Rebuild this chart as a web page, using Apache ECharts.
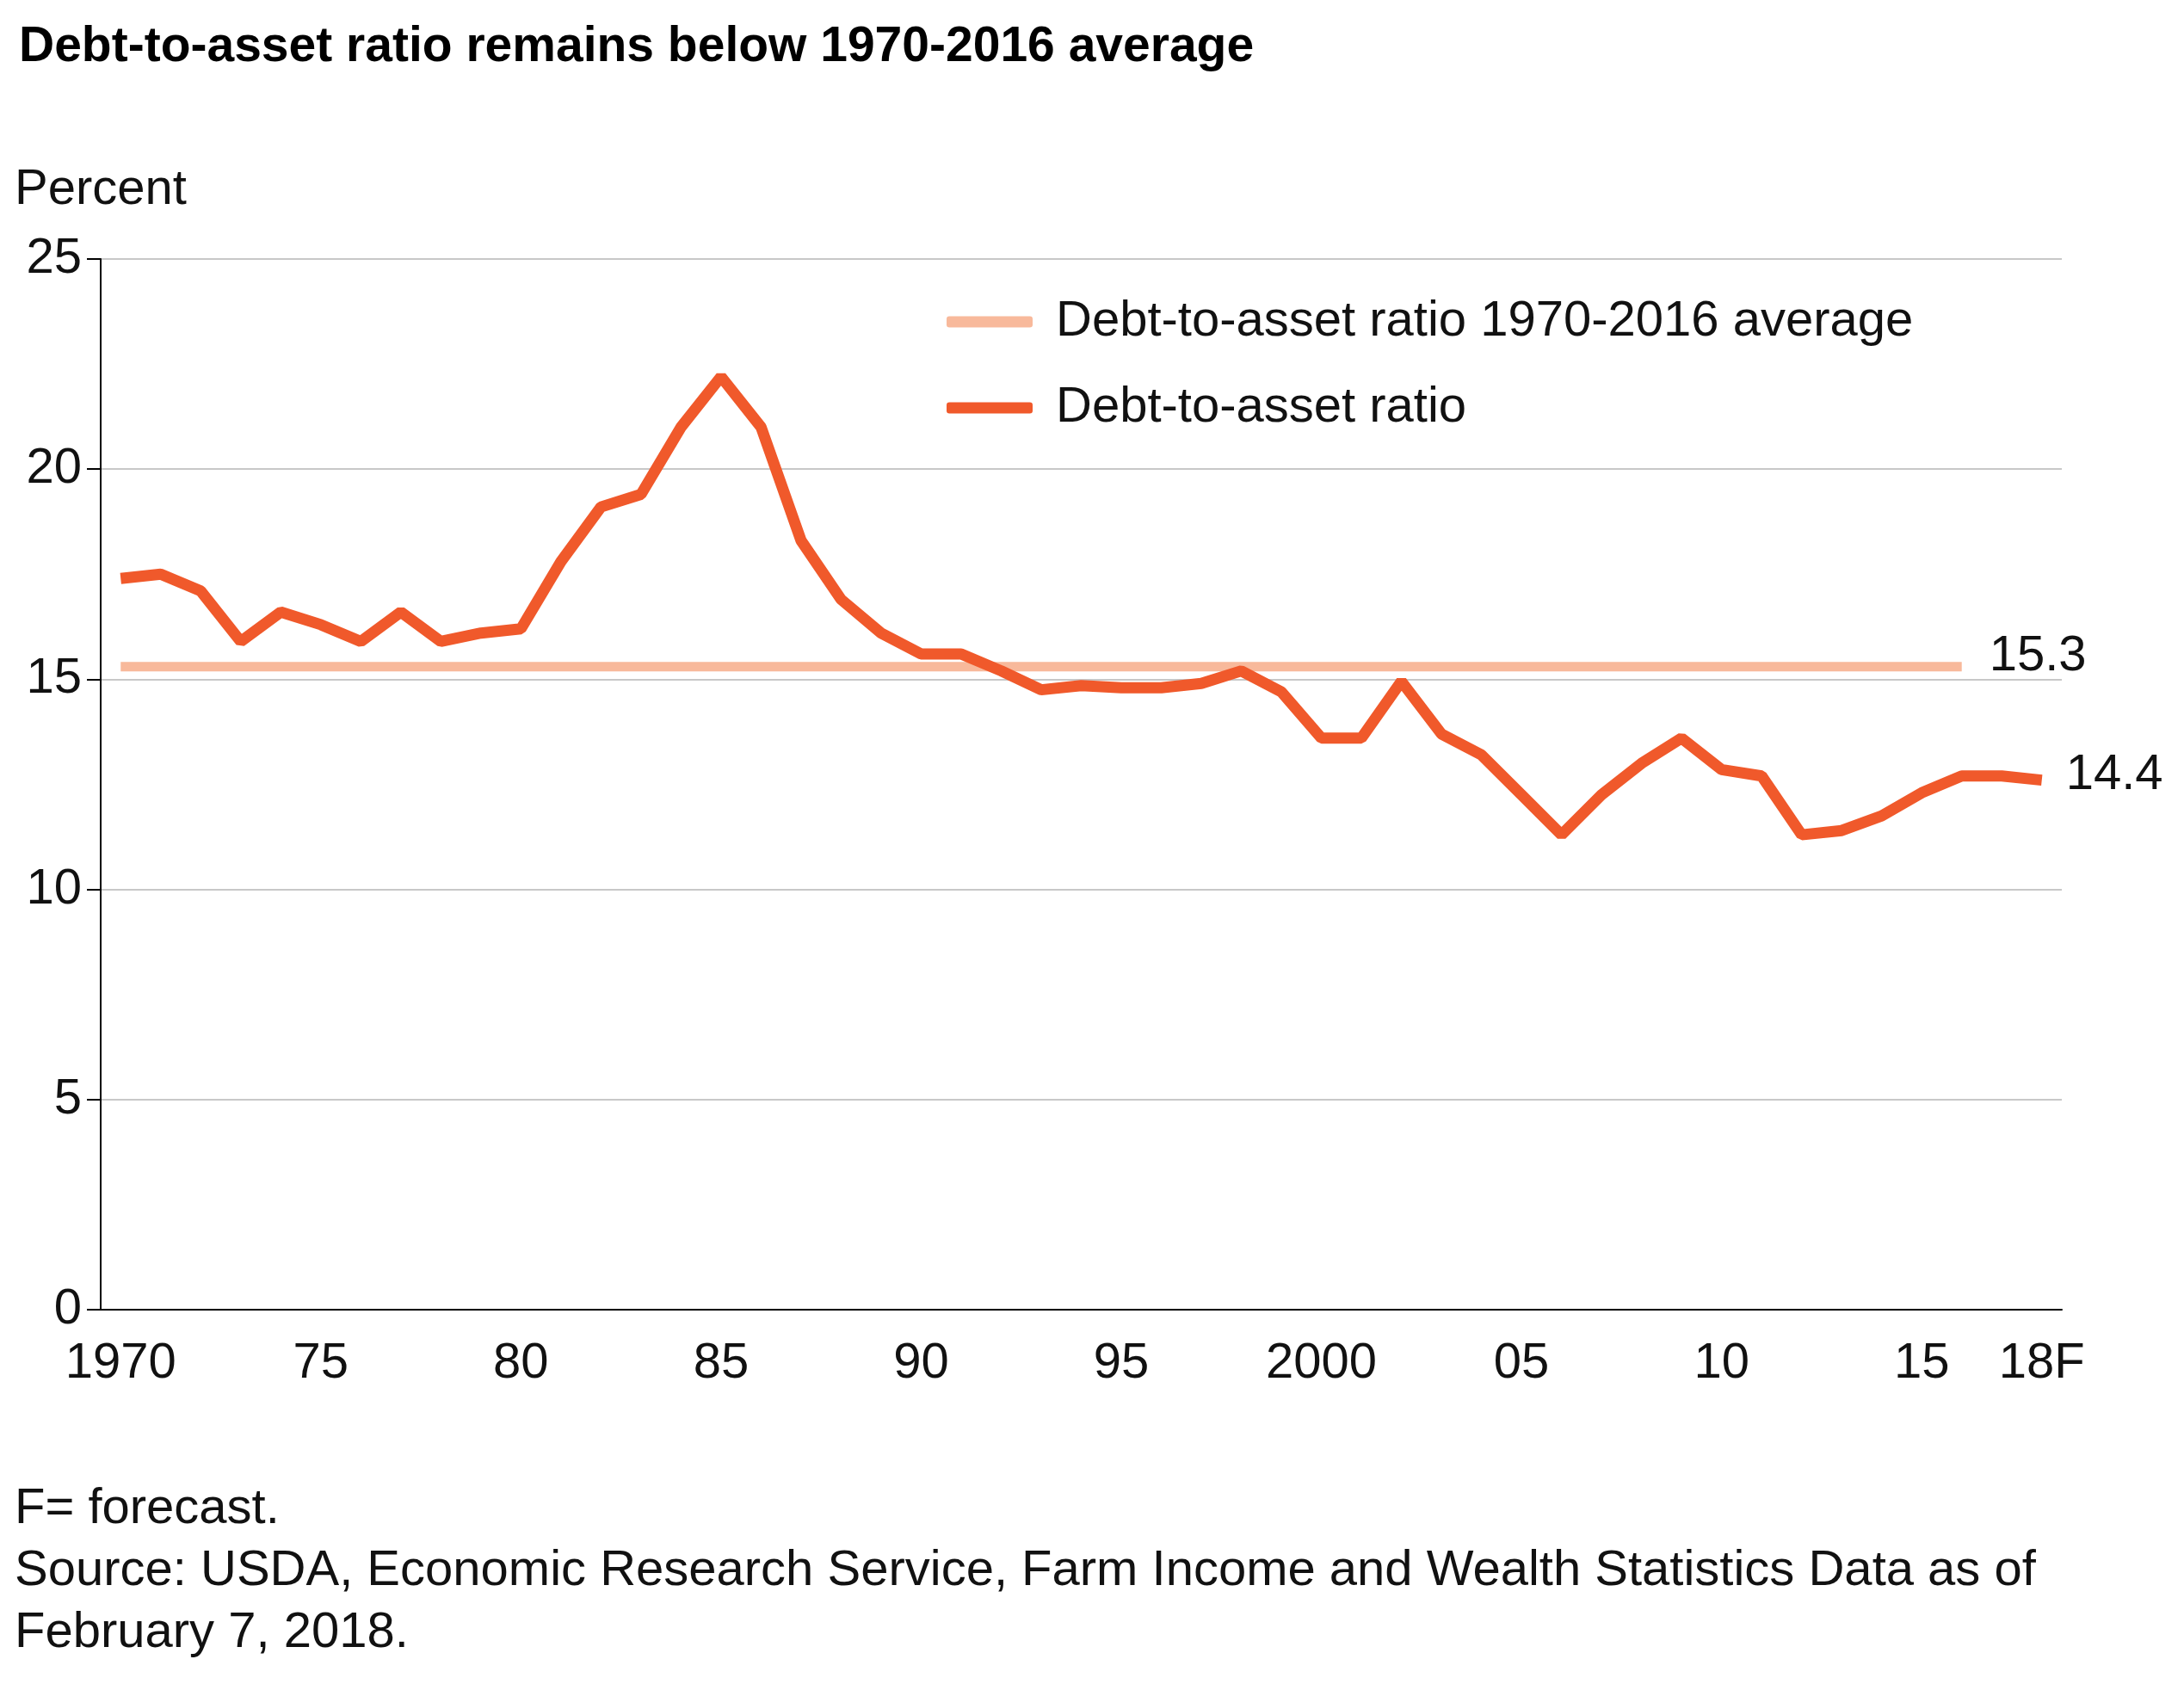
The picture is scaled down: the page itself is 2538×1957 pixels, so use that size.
<!DOCTYPE html>
<html>
<head>
<meta charset="utf-8">
<script src="https://cdn.jsdelivr.net/npm/echarts@6/dist/echarts.min.js"></script>
<style>html,body{margin:0;padding:0;background:#fff}#chart{width:2538px;height:1957px}</style>
</head>
<body>
<div id="chart"></div>
<script>
// years 1970-2018 (2018 = forecast)
var years = [];
for (var y = 1970; y <= 2018; y++) years.push(String(y));
var ratio = [17.4, 17.5, 17.1, 15.9, 16.6, 16.3, 15.9, 16.6, 15.9, 16.1,
             16.2, 17.8, 19.1, 19.4, 21.0, 22.2, 21.0, 18.3, 16.9, 16.1,
             15.6, 15.6, 15.2, 14.75, 14.85, 14.8, 14.8, 14.9, 15.2, 14.7,
             13.6, 13.6, 14.95, 13.7, 13.2, 12.25, 11.3, 12.25, 13.0, 13.6,
             12.85, 12.7, 11.3, 11.4, 11.75, 12.3, 12.7, 12.7, 12.6];
var avgValue = 15.3;
var avgLine = years.map(function (yr) { return +yr <= 2016 ? avgValue : null; });
var tickLabels = {'1970': '1970', '1975': '75', '1980': '80', '1985': '85', '1990': '90', '1995': '95',
                  '2000': '2000', '2005': '05', '2010': '10', '2015': '15', '2018': '18F'};

var font = 'Liberation Sans, Arial, sans-serif';
var chart = echarts.init(document.getElementById('chart'));
chart.setOption({
    backgroundColor: '#fff',
    textStyle: { fontFamily: font },
    grid: { left: 117, right: 142, top: 301, bottom: 435 },
    title: {
        text: 'Debt-to-asset ratio remains below 1970-2016 average',
        left: 17, top: 22,
        textStyle: { fontFamily: font, fontSize: 57, fontWeight: 'bold', color: '#000' }
    },
    legend: {
        orient: 'vertical', left: 1095, top: 340, itemGap: 42,
        itemWidth: 100, itemHeight: 13, icon: 'roundRect',
        textStyle: { fontFamily: font, fontSize: 58, color: '#111', padding: [0, 0, 0, 22] },
        data: ['Debt-to-asset ratio 1970-2016 average', 'Debt-to-asset ratio']
    },
    graphic: [
        { type: 'text', left: 17, top: 192, style: { text: 'Percent', font: '58px ' + font, fill: '#111' } },
        { type: 'text', left: 17, top: 1718, style: { text: 'F= forecast.\nSource: USDA, Economic Research Service, Farm Income and Wealth Statistics Data as of\nFebruary 7, 2018.', font: '58px ' + font, fill: '#111', lineHeight: 72 } }
    ],
    xAxis: {
        type: 'category', data: years, boundaryGap: true,
        axisLine: { lineStyle: { color: '#000', width: 2 } },
        axisTick: { alignWithLabel: true, interval: 0, length: 16, lineStyle: { color: '#000', width: 2 } },
        axisLabel: {
            interval: 0, margin: 34, fontSize: 58, color: '#111', fontFamily: font,
            formatter: function (v) { return tickLabels[v] || ''; }
        }
    },
    yAxis: {
        type: 'value', min: 0, max: 25, interval: 5,
        axisLine: { show: true, lineStyle: { color: '#000', width: 2 } },
        axisTick: { show: true, length: 16, lineStyle: { color: '#000', width: 2 } },
        axisLabel: { fontSize: 58, color: '#111', margin: 22, fontFamily: font },
        splitLine: { lineStyle: { color: '#c8c8c8', width: 2 } }
    },
    series: [
        {
            name: 'Debt-to-asset ratio 1970-2016 average', type: 'line', data: avgLine,
            symbol: 'none', color: '#f8b99b', lineStyle: { width: 11, color: '#f8b99b' },
            endLabel: { show: true, formatter: '15.3', fontSize: 58, color: '#111', offset: [24, -12], fontFamily: font }
        },
        {
            name: 'Debt-to-asset ratio', type: 'line', data: ratio,
            symbol: 'none', color: '#f0592b', lineStyle: { width: 13, color: '#f0592b' },
            endLabel: { show: true, formatter: '14.4', fontSize: 58, color: '#111', offset: [20, -6], fontFamily: font }
        }
    ]
});
</script>
</body>
</html>
